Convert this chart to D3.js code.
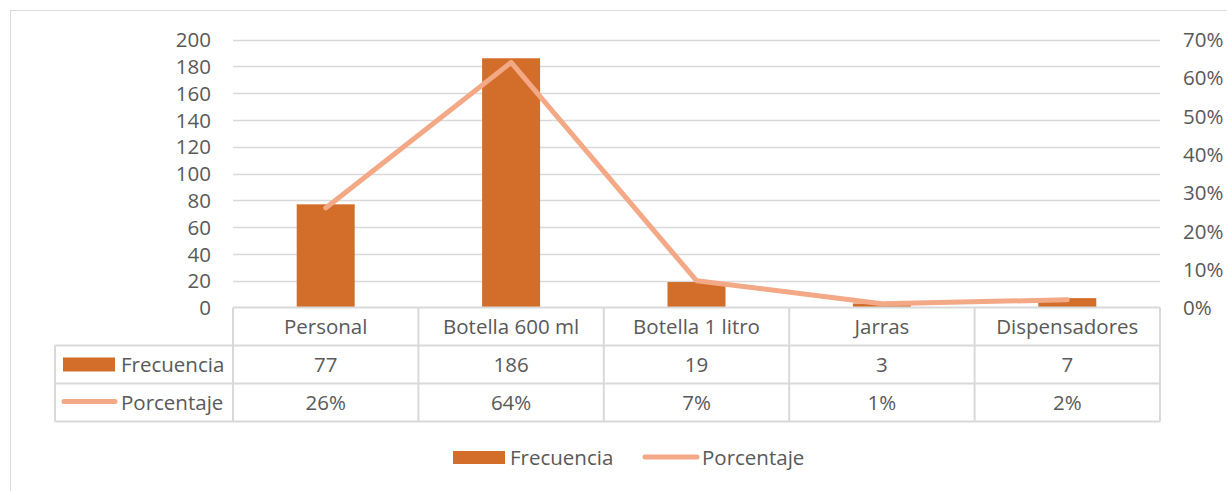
<!DOCTYPE html>
<html>
<head>
<meta charset="utf-8">
<script src="https://cdn.jsdelivr.net/npm/d3@7"></script>
<style>
  html, body { margin: 0; padding: 0; background: #fff; }
  svg { display: block; }
  text { font-family: "Open Sans", "Lato", sans-serif; fill: #595959; }
</style>
</head>
<body>
<svg id="chart" width="1227" height="491"></svg>
<script>
// Envases de agua: frecuencia y porcentaje
const categories = ["Personal", "Botella 600 ml", "Botella 1 litro", "Jarras", "Dispensadores"];
const frecuencia = [77, 186, 19, 3, 7];
const porcentaje = [26, 64, 7, 1, 2];
const leftTicks = [0, 20, 40, 60, 80, 100, 120, 140, 160, 180, 200];
const rightTicks = [0, 10, 20, 30, 40, 50, 60, 70];
const seriesNames = ["Frecuencia", "Porcentaje"];

const barColor = "#D26E2A";
const lineColor = "#F3A886";
const gridColor = "#D9D9D9";
const fontSize = 20.5;
const fontFamily = "'Open Sans', Lato, sans-serif";

const svg = d3.select("#chart");
const plot = { left: 233, right: 1160, top: 39.5, bottom: 307.5 };
const rowH = 38;
const tableLeft = 55;

// chart border
svg.append("rect")
  .attr("x", 10.5).attr("y", 10.5)
  .attr("width", 1240).attr("height", 500)
  .attr("fill", "none").attr("stroke", gridColor).attr("stroke-width", 1);

const x = d3.scaleBand().domain(categories).range([plot.left, plot.right]).paddingInner(0).paddingOuter(0);
const yL = d3.scaleLinear().domain([0, 200]).range([plot.bottom, plot.top]);
const yR = d3.scaleLinear().domain([0, 70]).range([plot.bottom, plot.top]);

// gridlines
svg.append("g").selectAll("line").data(leftTicks.filter(d => d > 0)).join("line")
  .attr("x1", plot.left).attr("x2", plot.right)
  .attr("y1", d => Math.round(yL(d)) + 0.5).attr("y2", d => Math.round(yL(d)) + 0.5)
  .attr("stroke", gridColor).attr("stroke-width", 1.3);

// left axis
const leftAxis = d3.axisLeft(yL).tickValues(leftTicks).tickSize(0).tickPadding(0);
const gl = svg.append("g").attr("transform", `translate(${plot.left - 22},0)`).call(leftAxis);
gl.select(".domain").remove();
gl.selectAll("text").style("font-size", fontSize + "px").attr("fill", "#595959")
  .attr("font-family", fontFamily).attr("dy", "0.35em");

// right axis
const rightAxis = d3.axisRight(yR).tickValues(rightTicks).tickSize(0).tickPadding(0).tickFormat(d => d + "%");
const gr = svg.append("g").attr("transform", `translate(${plot.right + 23},0)`).call(rightAxis);
gr.select(".domain").remove();
gr.selectAll("text").style("font-size", fontSize + "px").attr("fill", "#595959")
  .attr("font-family", fontFamily).attr("dy", "0.35em");

// bars
const barW = 58;
svg.append("g").selectAll("rect").data(categories).join("rect")
  .attr("x", d => x(d) + x.bandwidth() / 2 - barW / 2)
  .attr("width", barW)
  .attr("y", (d, i) => yL(frecuencia[i]))
  .attr("height", (d, i) => yL(0) - yL(frecuencia[i]))
  .attr("fill", barColor);

// percentage line
const line = d3.line()
  .x((d, i) => x(categories[i]) + x.bandwidth() / 2)
  .y(d => yR(d));
svg.append("path").datum(porcentaje)
  .attr("d", line)
  .attr("fill", "none").attr("stroke", lineColor)
  .attr("stroke-width", 5).attr("stroke-linecap", "round").attr("stroke-linejoin", "round");

// data table
const table = svg.append("g");
const tBottom = plot.bottom + rowH * 3;
const gridStyle = sel => sel.attr("stroke", gridColor).attr("stroke-width", 2).attr("fill", "none");

// horizontal rules
[plot.bottom, plot.bottom + rowH, plot.bottom + rowH * 2, tBottom].forEach((yy, i) => {
  table.append("line")
    .attr("x1", i === 0 ? plot.left : tableLeft).attr("x2", plot.right)
    .attr("y1", yy).attr("y2", yy).call(gridStyle);
});
// vertical rules
const colEdges = categories.map(c => x(c)).concat([plot.right]);
colEdges.forEach(xx => {
  table.append("line").attr("x1", xx).attr("x2", xx)
    .attr("y1", plot.bottom).attr("y2", tBottom).call(gridStyle);
});
table.append("line").attr("x1", tableLeft).attr("x2", tableLeft)
  .attr("y1", plot.bottom + rowH).attr("y2", tBottom).call(gridStyle);

// header row: category names
table.selectAll("text.cat").data(categories).join("text").attr("class", "cat")
  .attr("x", d => x(d) + x.bandwidth() / 2)
  .attr("y", plot.bottom + rowH / 2)
  .attr("dy", "0.35em").attr("text-anchor", "middle")
  .style("font-size", fontSize + "px").text(d => d);

// value rows
table.selectAll("text.freq").data(frecuencia).join("text").attr("class", "freq")
  .attr("x", (d, i) => x(categories[i]) + x.bandwidth() / 2)
  .attr("y", plot.bottom + rowH * 1.5)
  .attr("dy", "0.35em").attr("text-anchor", "middle")
  .style("font-size", fontSize + "px").text(d => d);

table.selectAll("text.pct").data(porcentaje).join("text").attr("class", "pct")
  .attr("x", (d, i) => x(categories[i]) + x.bandwidth() / 2)
  .attr("y", plot.bottom + rowH * 2.5)
  .attr("dy", "0.35em").attr("text-anchor", "middle")
  .style("font-size", fontSize + "px").text(d => d + "%");

// row headers with legend keys
const r1 = plot.bottom + rowH * 1.5, r2 = plot.bottom + rowH * 2.5;
table.append("rect").attr("x", 63).attr("y", r1 - 7).attr("width", 52).attr("height", 14).attr("fill", barColor);
table.append("text").attr("x", 121).attr("y", r1).attr("dy", "0.35em")
  .style("font-size", fontSize + "px").text(seriesNames[0]);
table.append("line").attr("x1", 64).attr("x2", 115).attr("y1", r2 - 1).attr("y2", r2 - 1)
  .attr("stroke", lineColor).attr("stroke-width", 5).attr("stroke-linecap", "round");
table.append("text").attr("x", 121).attr("y", r2).attr("dy", "0.35em")
  .style("font-size", fontSize + "px").text(seriesNames[1]);

// legend
const leg = svg.append("g");
const ly = 458;
leg.append("rect").attr("x", 453).attr("y", ly - 7).attr("width", 52).attr("height", 13).attr("fill", barColor);
leg.append("text").attr("x", 510).attr("y", ly).attr("dy", "0.35em")
  .style("font-size", fontSize + "px").text(seriesNames[0]);
leg.append("line").attr("x1", 645).attr("x2", 697).attr("y1", ly - 1).attr("y2", ly - 1)
  .attr("stroke", lineColor).attr("stroke-width", 5).attr("stroke-linecap", "round");
leg.append("text").attr("x", 702).attr("y", ly).attr("dy", "0.35em")
  .style("font-size", fontSize + "px").text(seriesNames[1]);
</script>
</body>
</html>
